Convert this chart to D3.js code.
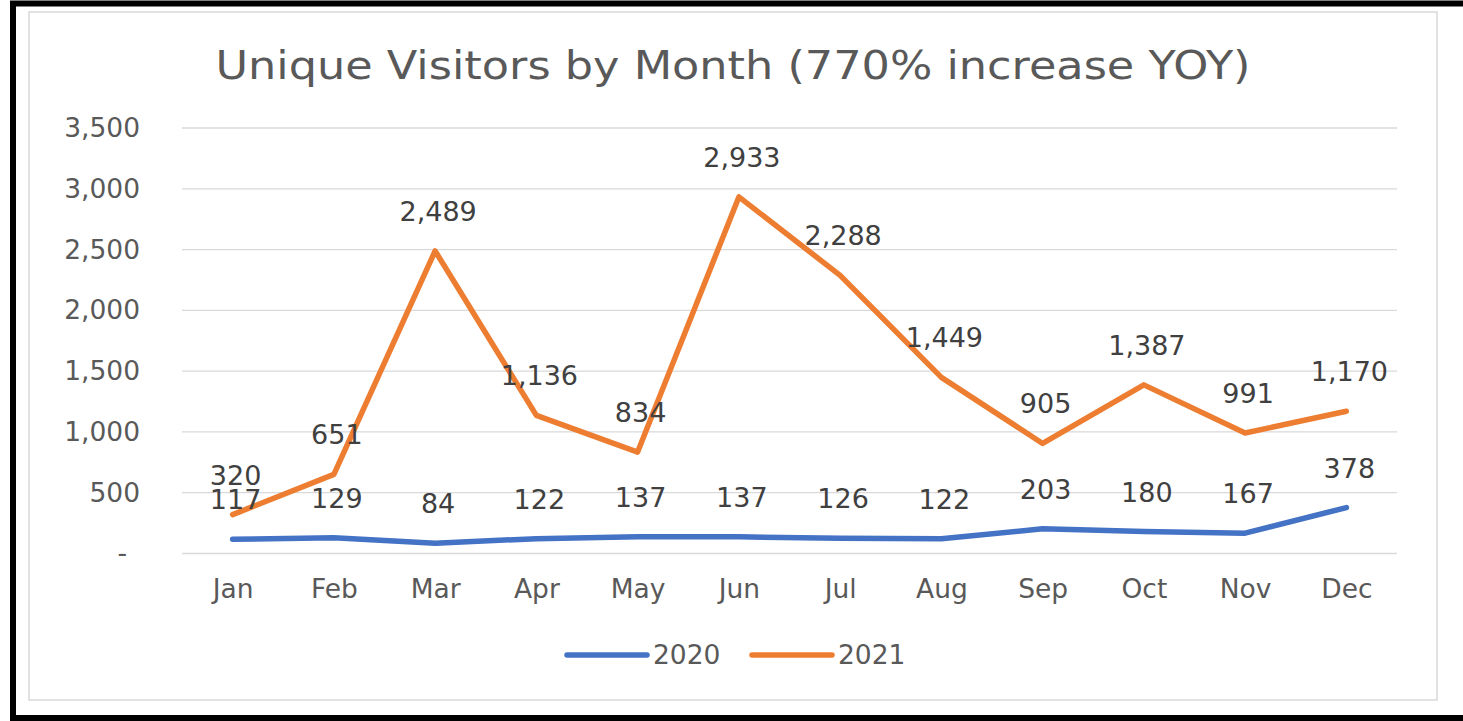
<!DOCTYPE html>
<html>
<head>
<meta charset="utf-8">
<script src="https://cdn.jsdelivr.net/npm/d3@7"></script>
<style>
  body { margin: 0; background: #fff; }
  svg { display: block; }
  text { font-family: "DejaVu Sans", sans-serif; }
</style>
</head>
<body>
<svg></svg>
<script>
let months = ["Jan","Feb","Mar","Apr","May","Jun","Jul","Aug","Sep","Oct","Nov","Dec"]
let visitors2020 = [117,129,84,122,137,137,126,122,203,180,167,378]
let visitors2021 = [320,651,2489,1136,834,2933,2288,1449,905,1387,991,1170]
let yTicks = [0,500,1000,1500,2000,2500,3000,3500]
let seriesNames = ["2020","2021"]
let colors = ["#4472C4","#ED7D31"]

let width = 1463
let height = 721
let plotLeft = 182
let plotRight = 1397
let plotTop = 128
let plotBottom = 553.5

let svg = d3.select('svg').attr("width", width).attr("height", height)

// frames
svg.append("rect").attr("x", 13).attr("y", 3.5).attr("width", 1470).attr("height", 714.5)
  .attr("fill", "none").attr("stroke", "#000").attr("stroke-width", 6)
svg.append("rect").attr("x", 29).attr("y", 12).attr("width", 1408).attr("height", 688)
  .attr("fill", "none").attr("stroke", "#d9d9d9").attr("stroke-width", 1.5)

let xScale = d3.scalePoint().domain(months).range([plotLeft, plotRight]).padding(0.5)
let yScale = d3.scaleLinear().domain([0, 3500]).range([plotBottom, plotTop])

// title (stretched a bit to match the wide look of the original)
svg.append("text").attr("x", 733).attr("y", 79).attr("text-anchor", "middle")
  .attr("fill", "#595959").style("font-size", "39px")
  .attr("textLength", 1035).attr("lengthAdjust", "spacingAndGlyphs")
  .text("Unique Visitors by Month (770% increase YOY)")

// gridlines
svg.append("g").selectAll("line").data(yTicks).enter().append("line")
  .attr("x1", plotLeft).attr("x2", plotRight)
  .attr("y1", d => yScale(d)).attr("y2", d => yScale(d))
  .attr("stroke", "#d9d9d9").attr("stroke-width", 1.3)

// y axis
let yAxis = d3.axisLeft(yScale).tickValues(yTicks).tickSize(0).tickPadding(42)
  .tickFormat(d => d === 0 ? "-" : d3.format(",")(d))
let yg = svg.append("g").attr("transform", "translate(" + plotLeft + ",0)").call(yAxis)
yg.select(".domain").remove()
yg.selectAll("text").attr("fill", "#595959").style("font-size", "26.5px").style("font-family", "DejaVu Sans")
yg.selectAll("text").filter(d => d === 0).attr("x", -55)

// x axis
let xAxis = d3.axisBottom(xScale).tickSize(0).tickPadding(26)
let xg = svg.append("g").attr("transform", "translate(0," + plotBottom + ")").call(xAxis)
xg.select(".domain").remove()
xg.selectAll("text").attr("fill", "#595959").style("font-size", "26.5px").style("font-family", "DejaVu Sans")

// lines
let series = [visitors2020, visitors2021]
let line = d3.line().x((d, i) => xScale(months[i])).y(d => yScale(d))

series.forEach((values, s) => {
  svg.append("path").datum(values).attr("d", line)
    .attr("fill", "none").attr("stroke", colors[s]).attr("stroke-width", 5.5)
    .attr("stroke-linejoin", "round").attr("stroke-linecap", "round")
})

// data labels
series.forEach((values, s) => {
  svg.append("g").selectAll("text").data(values).enter().append("text")
    .attr("x", (d, i) => xScale(months[i]) + 3)
    .attr("y", d => yScale(d) - 30)
    .attr("text-anchor", "middle")
    .attr("fill", "#404040").style("font-size", "27px")
    .text(d => d3.format(",")(d))
})

// legend
let legendX = [567, 752]
seriesNames.forEach((name, s) => {
  svg.append("line").attr("x1", legendX[s]).attr("x2", legendX[s] + 80)
    .attr("y1", 655).attr("y2", 655)
    .attr("stroke", colors[s]).attr("stroke-width", 5.5).attr("stroke-linecap", "round")
  svg.append("text").attr("x", legendX[s] + 86).attr("y", 664)
    .attr("fill", "#595959").style("font-size", "26.5px").text(name)
})
</script>
</body>
</html>
